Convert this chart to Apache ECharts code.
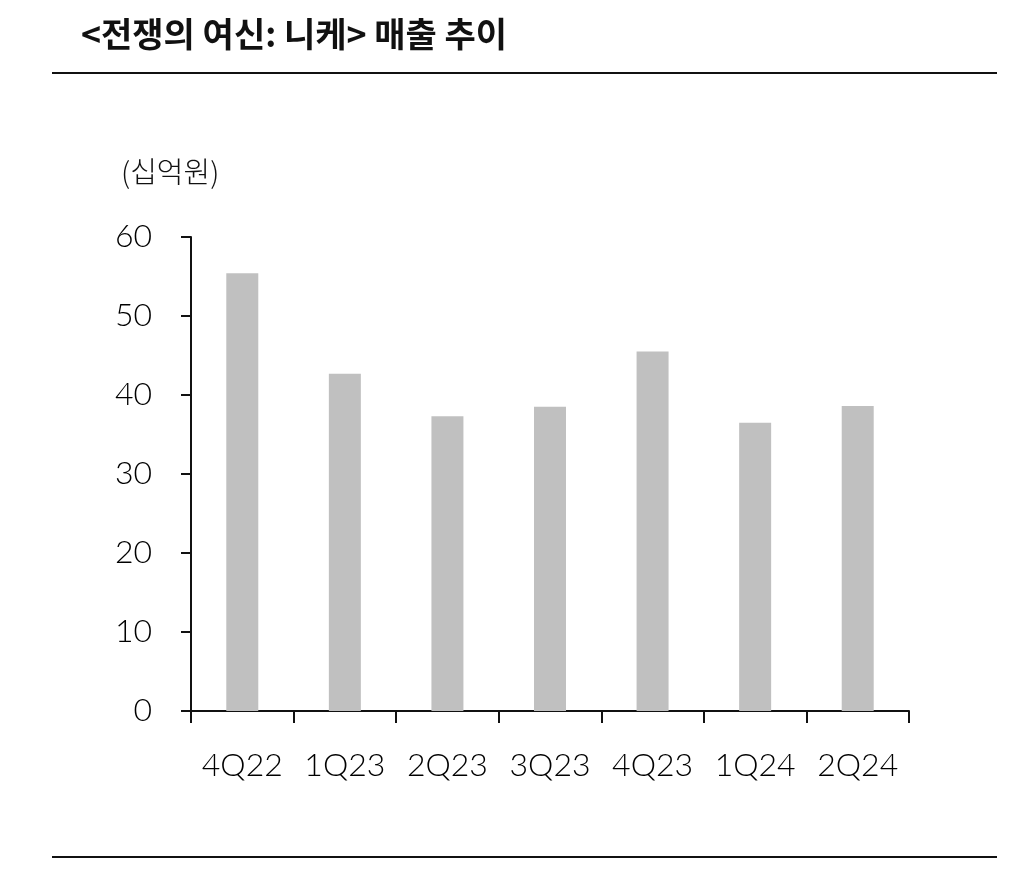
<!DOCTYPE html>
<html>
<head>
<meta charset="utf-8">
<script src="https://cdn.jsdelivr.net/npm/echarts@6/dist/echarts.min.js"></script>
<style>
  html, body { margin: 0; padding: 0; background: #fff; }
  #chart { width: 1024px; height: 873px; }
</style>
</head>
<body>
<div id="chart"></div>
<script>
const categories = ["4Q22", "1Q23", "2Q23", "3Q23", "4Q23", "1Q24", "2Q24"];
const sales = [55.4, 42.7, 37.3, 38.5, 45.5, 36.5, 38.6];
const yTicks = { min: 0, max: 60, interval: 10 };

const chart = echarts.init(document.getElementById("chart"));
const numFont = "Lato";

chart.setOption({
  animation: false,
  backgroundColor: "#fff",
  title: {
    text: "<전쟁의 여신: 니케> 매출 추이",
    left: 76,
    top: 12,
    textStyle: {
      fontFamily: "Noto Sans CJK KR",
      fontWeight: "bold",
      fontSize: 34,
      color: "#111",
    },
  },
  graphic: [
    // 상단/하단 구분선
    { type: "line", shape: { x1: 52, y1: 73, x2: 997, y2: 73 }, style: { stroke: "#111", lineWidth: 2 } },
    { type: "line", shape: { x1: 52, y1: 857, x2: 997, y2: 857 }, style: { stroke: "#111", lineWidth: 2 } },
    {
      type: "text",
      left: 121,
      top: 157,
      style: {
        text: "(십억원)",
        fontFamily: "Noto Sans CJK KR",
        fontSize: 29,
        fontWeight: 300,
        fill: "#111",
      },
    },
  ],
  grid: {
    left: 191,
    right: 115,
    top: 237,
    bottom: 162,
  },
  xAxis: {
    type: "category",
    data: categories,
    boundaryGap: true,
    axisLine: { lineStyle: { color: "#111", width: 2 } },
    axisTick: { show: true, length: 12, lineStyle: { color: "#111", width: 2 } },
    axisLabel: {
      margin: 39,
      color: "#000",
      fontFamily: numFont,
      fontWeight: 300,
      fontSize: 32,
      interval: 0,
    },
  },
  yAxis: {
    type: "value",
    min: yTicks.min,
    max: yTicks.max,
    interval: yTicks.interval,
    splitLine: { show: false },
    axisLine: { show: true, lineStyle: { color: "#111", width: 2 } },
    axisTick: { show: true, length: 10, lineStyle: { color: "#111", width: 2 } },
    axisLabel: {
      margin: 39,
      color: "#000",
      fontFamily: numFont,
      fontWeight: 300,
      fontSize: 32,
    },
  },
  series: [
    {
      type: "bar",
      data: sales,
      barWidth: 32,
      itemStyle: { color: "#c0c0c0" },
    },
  ],
});
</script>
</body>
</html>
